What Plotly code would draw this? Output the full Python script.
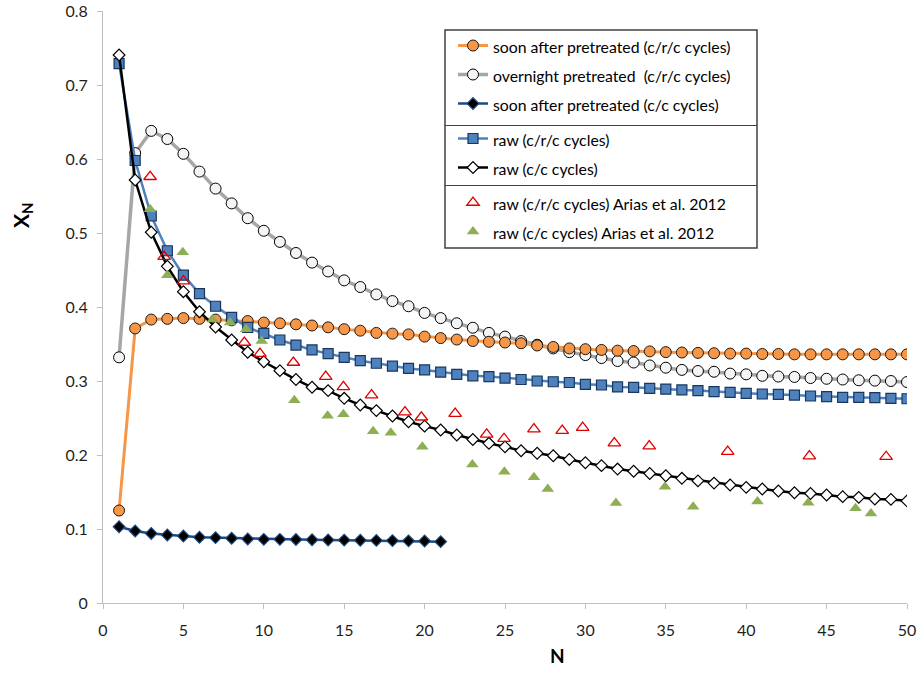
import plotly.graph_objects as go

# ---------------- data ----------------
N = list(range(1, 51))
N21 = list(range(1, 22))

soon_crc = [0.125, 0.371, 0.383, 0.384, 0.385, 0.384, 0.383, 0.382, 0.381, 0.379,
            0.378, 0.3766, 0.375, 0.3725, 0.370, 0.368, 0.365, 0.364, 0.363, 0.360,
            0.358, 0.356, 0.354, 0.353, 0.352, 0.351, 0.348, 0.346, 0.344, 0.343,
            0.342, 0.341, 0.3405, 0.340, 0.339, 0.3385, 0.338, 0.3375, 0.337, 0.337,
            0.3365, 0.3365, 0.336, 0.336, 0.336, 0.336, 0.336, 0.336, 0.336, 0.336]

overnight_crc = [0.332, 0.608, 0.638, 0.627, 0.607, 0.583, 0.560, 0.540, 0.520, 0.503,
                 0.488, 0.473, 0.460, 0.448, 0.436, 0.427, 0.417, 0.408, 0.401, 0.392,
                 0.385, 0.378, 0.372, 0.365, 0.360, 0.354, 0.349, 0.344, 0.339, 0.335,
                 0.331, 0.327, 0.325, 0.321, 0.318, 0.315, 0.3135, 0.3125, 0.310, 0.309,
                 0.307, 0.306, 0.3055, 0.304, 0.303, 0.302, 0.301, 0.3005, 0.300, 0.2986]

soon_cc = [0.103, 0.0973, 0.094, 0.0919, 0.0905, 0.0888, 0.0883, 0.0874, 0.0865, 0.086,
           0.0860, 0.0858, 0.0855, 0.0852, 0.0850, 0.0848, 0.0846, 0.0843, 0.0840, 0.0838,
           0.0829]

raw_crc = [0.729, 0.598, 0.523, 0.476, 0.443, 0.418, 0.401, 0.386, 0.3725, 0.3644,
           0.3554, 0.3486, 0.342, 0.337, 0.332, 0.3275, 0.324, 0.320, 0.317, 0.315,
           0.312, 0.309, 0.307, 0.306, 0.304, 0.302, 0.300, 0.299, 0.298, 0.2955,
           0.2946, 0.292, 0.2915, 0.290, 0.289, 0.288, 0.287, 0.2856, 0.2847, 0.2834,
           0.2824, 0.282, 0.281, 0.2797, 0.279, 0.278, 0.278, 0.2775, 0.2766, 0.276]

raw_cc = [0.7405, 0.5716, 0.501, 0.455, 0.4207, 0.3936, 0.373, 0.3554, 0.3388, 0.326,
          0.314, 0.302, 0.2915, 0.287, 0.2766, 0.2676, 0.260, 0.2527, 0.245, 0.239,
          0.2338, 0.227, 0.221, 0.2158, 0.211, 0.2058, 0.2023, 0.199, 0.194, 0.1896,
          0.1856, 0.181, 0.178, 0.175, 0.172, 0.1685, 0.165, 0.162, 0.1595, 0.1563,
          0.154, 0.1514, 0.149, 0.148, 0.146, 0.1437, 0.1428, 0.1405, 0.140, 0.138]

arias_crc_N = [2.93, 3.8, 5.0, 8.79, 9.76, 11.84, 13.85, 14.95, 16.7, 18.78, 19.8,
               21.9, 23.86, 24.94, 26.8, 28.56, 29.83, 31.8, 33.97, 38.85, 43.93, 48.7]
arias_crc_X = [0.576, 0.468, 0.435, 0.352, 0.337, 0.325, 0.306, 0.292, 0.281, 0.258, 0.251,
               0.256, 0.228, 0.222, 0.235, 0.233, 0.237, 0.216, 0.212, 0.2045, 0.1986, 0.1977]

arias_cc_N = [2.93, 4.0, 4.96, 6.82, 7.9, 8.9, 9.87, 11.9, 13.97, 14.95, 16.8, 17.9,
              19.86, 22.97, 24.96, 26.8, 27.66, 31.9, 34.95, 36.7, 40.7, 43.86, 46.8, 47.76]
arias_cc_X = [0.532, 0.443, 0.474, 0.383, 0.379, 0.370, 0.354, 0.274, 0.253, 0.255, 0.232, 0.230,
              0.211, 0.187, 0.1775, 0.170, 0.154, 0.135, 0.157, 0.130, 0.137, 0.1356, 0.128, 0.121]

labels = ["soon after pretreated (c/r/c cycles)",
          "overnight pretreated  (c/r/c cycles)",
          "soon after pretreated (c/c cycles)",
          "raw (c/r/c cycles)",
          "raw (c/c cycles)",
          "raw (c/r/c cycles) Arias et al. 2012",
          "raw (c/c cycles) Arias et al. 2012"]

x_ticks = [0, 5, 10, 15, 20, 25, 30, 35, 40, 45, 50]
y_ticks = [0, 0.1, 0.2, 0.3, 0.4, 0.5, 0.6, 0.7, 0.8]


def lbl(t):
    return '<span style="font-size:15.8px">' + t.replace("  ", "&nbsp; ") + '</span>'


fig = go.Figure()

# drawing order: gray below orange, etc.
fig.add_trace(go.Scatter(x=N, y=overnight_crc, mode="lines+markers", name=lbl(labels[1]),
                         legendgroup="g1", legendrank=2,
                         line=dict(color="#A6A6A6", width=3.5),
                         marker=dict(symbol="circle", size=11, color="#F4F4F4",
                                     line=dict(color="#000000", width=1))))
fig.add_trace(go.Scatter(x=N, y=soon_crc, mode="lines+markers", name=lbl(labels[0]),
                         legendgroup="g1", legendrank=1,
                         line=dict(color="#F79646", width=3),
                         marker=dict(symbol="circle", size=11, color="#F79646",
                                     line=dict(color="#1A1A1A", width=1))))
fig.add_trace(go.Scatter(x=N21, y=soon_cc, mode="lines+markers", name=lbl(labels[2]),
                         legendgroup="g1", legendrank=3,
                         line=dict(color="#1F497D", width=2.5),
                         marker=dict(symbol="diamond", size=9, color="#000000",
                                     line=dict(color="#1F497D", width=1.2))))
fig.add_trace(go.Scatter(x=N, y=raw_crc, mode="lines+markers", name=lbl(labels[3]),
                         legendgroup="g2", legendrank=4,
                         line=dict(color="#4F81BD", width=2.5),
                         marker=dict(symbol="square", size=10, color="#4F81BD",
                                     line=dict(color="#17375E", width=1.2))))
fig.add_trace(go.Scatter(x=N, y=raw_cc, mode="lines+markers", name=lbl(labels[4]),
                         legendgroup="g2", legendrank=5,
                         line=dict(color="#000000", width=2.5),
                         marker=dict(symbol="diamond", size=9, color="#FFFFFF",
                                     line=dict(color="#000000", width=1.2))))
fig.add_trace(go.Scatter(x=arias_crc_N, y=arias_crc_X, mode="markers", name=lbl(labels[5]),
                         legendgroup="g3", legendrank=6,
                         marker=dict(symbol="triangle-up-open", size=11, color="#E00000",
                                     line=dict(color="#E00000", width=1.3))))
fig.add_trace(go.Scatter(x=arias_cc_N, y=arias_cc_X, mode="markers", name=lbl(labels[6]),
                         legendgroup="g3", legendrank=7,
                         marker=dict(symbol="triangle-up", size=11, color="#8DAE52")))

# plot area: x 103..907 px, y 11..603 px
PL, PR, PT, PB = 103, 907, 11, 603
W, H = 920, 673


def px_x(p):
    return (p - PL) / (PR - PL)


def px_y(p):
    return (PB - p) / (PB - PT)


shapes = [
    dict(type="rect", xref="paper", yref="paper",
         x0=px_x(445), x1=px_x(757), y0=px_y(248), y1=px_y(30),
         line=dict(color="#404040", width=1.5), fillcolor="white", layer="above"),
    dict(type="line", xref="paper", yref="paper",
         x0=px_x(445), x1=px_x(757), y0=px_y(125.5), y1=px_y(125.5),
         line=dict(color="#404040", width=1), layer="above"),
    dict(type="line", xref="paper", yref="paper",
         x0=px_x(445), x1=px_x(757), y0=px_y(185.5), y1=px_y(185.5),
         line=dict(color="#404040", width=1), layer="above"),
]

annotations = [
    dict(text="<b>X<sub>N</sub></b>", xref="paper", yref="paper",
         x=px_x(22), y=px_y(216), xanchor="center", yanchor="middle",
         textangle=-90, showarrow=False,
         font=dict(family="Lato", size=21, color="#000000")),
    dict(text="<b>N</b>", xref="paper", yref="paper",
         x=px_x(557), y=px_y(655), xanchor="center", yanchor="middle",
         showarrow=False,
         font=dict(family="Lato", size=19, color="#000000")),
]

fig.update_layout(
    template="none",
    width=W, height=H,
    margin=dict(l=PL, r=W - PR, t=PT, b=H - PB, pad=0, autoexpand=False),
    paper_bgcolor="white", plot_bgcolor="white",
    font=dict(family="Lato", color="#262626"),
    showlegend=True,
    legend=dict(x=px_x(453), y=px_y(26), xanchor="left", yanchor="top",
                bgcolor="rgba(0,0,0,0)", borderwidth=0,
                font=dict(family="Lato", size=20, color="#000000"),
                traceorder="grouped", tracegroupgap=6, itemclick=False),
    shapes=shapes,
    annotations=annotations,
)

fig.update_xaxes(range=[0, 50], tickvals=x_ticks, ticktext=[str(v) for v in x_ticks],
                 automargin=False,
                 showgrid=False, zeroline=False, showline=True, linecolor="#BFBFBF",
                 linewidth=1, ticks="outside", ticklen=5, tickcolor="#BFBFBF",
                 tickfont=dict(family="Lato", size=16, color="#1F1F1F"),
                 ticklabelstandoff=8)
fig.update_yaxes(range=[0, 0.8], tickvals=y_ticks, ticktext=["0"] + [f"{v:.1f}" for v in y_ticks[1:]],
                 automargin=False,
                 showgrid=False, zeroline=False, showline=True, linecolor="#BFBFBF",
                 linewidth=1, ticks="outside", ticklen=5, tickcolor="#BFBFBF",
                 tickfont=dict(family="Lato", size=16, color="#1F1F1F"),
                 ticklabelstandoff=6)

fig.write_html("out.html")
